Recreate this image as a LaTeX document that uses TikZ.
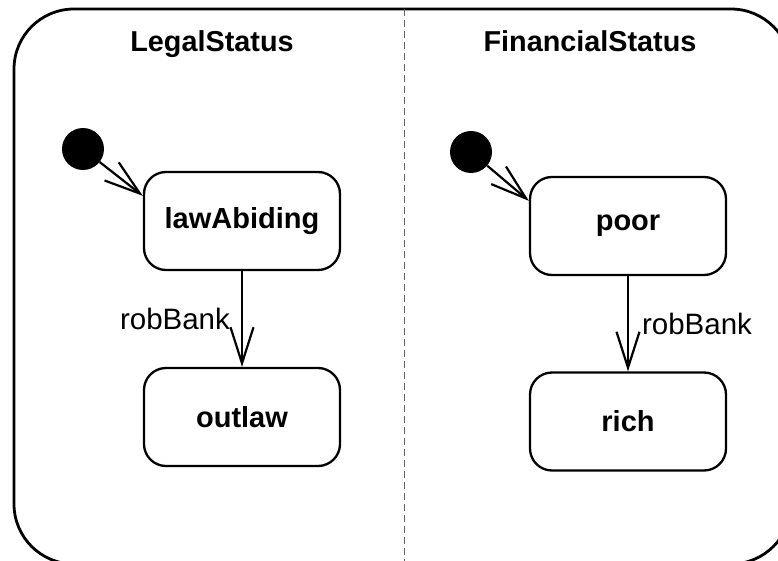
\documentclass[tikz,border=0pt]{standalone}
\usepackage{fontspec}
\setmainfont{Liberation Sans}
\usetikzlibrary{arrows.meta,calc}
\begin{document}
\begin{tikzpicture}[x=1pt,y=-1pt,
  statebox/.style={draw, line width=2.3pt, rounded corners=22pt, minimum width=196pt, minimum height=98pt,
    inner sep=0pt, font=\bfseries\fontsize{29}{35}\selectfont},
  initdot/.style={circle, fill=black, minimum size=42pt, inner sep=0pt},
  trans/.style={line width=2.2pt, -{Straight Barb[length=36pt,width=23pt,line width=2.2pt]}},
  lbl/.style={font=\fontsize{29.5}{35}\selectfont},
  ttl/.style={font=\bfseries\fontsize{28.8}{35}\selectfont, anchor=base, inner sep=0pt}]
\useasboundingbox (0,0) rectangle (778,561);
% outer frame and divider
\draw[line width=2.8pt, rounded corners=60pt] (14,9) rectangle (791,564);
\draw[line width=1pt, black!60, dash pattern=on 7pt off 4pt] (404,9) -- (404,564);
% titles
\node[ttl] (t1) at (212,52) {LegalStatus};
\node[ttl] (t2) at (590,52) {FinancialStatus};
% left region
\node[initdot] (i1) at (83,149) {};
\node[statebox] (law) at (242,221) {lawAbiding};
\node[statebox] (out) at (242,417) {outlaw};
\draw[trans] (i1) -- ([yshift=-25pt]law.north west);
\draw[trans] (law) -- node[lbl, left, inner sep=11pt] {robBank} (out);
% right region
\node[initdot] (i2) at (471,152) {};
\node[statebox] (poor) at (628,226) {poor};
\node[statebox] (rich) at (628,421.5) {rich};
\draw[trans] (i2) -- ([yshift=-25pt]poor.north west);
\draw[trans] (poor) -- node[lbl, right, inner sep=13pt] {robBank} (rich);
\end{tikzpicture}
\end{document}
